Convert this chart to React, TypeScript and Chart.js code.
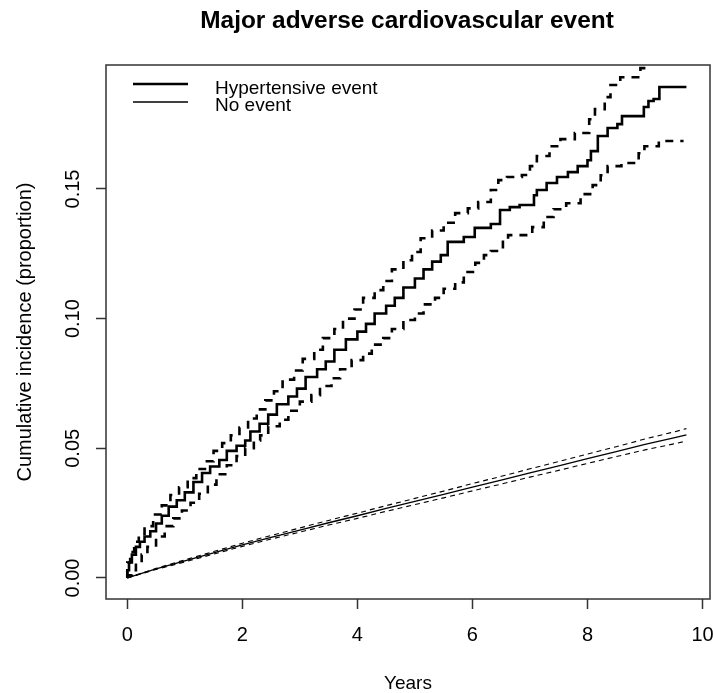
import { useEffect, useRef } from "react";
import { Chart, registerables } from "chart.js";

Chart.register(...registerables);

const chartTitle = "Major adverse cardiovascular event";
const xTitle = "Years";
const yTitle = "Cumulative incidence (proportion)";
const legendLabels = ["Hypertensive event", "No event"];
const xTicks = [0, 2, 4, 6, 8, 10];
const yTicks = [0, 0.05, 0.1, 0.15];

// Hypertensive event: estimate (step function)
const hyEstT = [0, 0.03, 0.08, 0.15, 0.22, 0.3, 0.4, 0.5, 0.6, 0.72, 0.86, 1.0, 1.15, 1.3, 1.44, 1.6, 1.73, 1.9, 2.05, 2.14, 2.3, 2.45, 2.6, 2.8, 2.95, 3.1, 3.3, 3.45, 3.6, 3.8, 4.0, 4.15, 4.3, 4.5, 4.65, 4.8, 5.0, 5.15, 5.3, 5.45, 5.57, 5.85, 6.04, 6.32, 6.48, 6.65, 6.82, 7.07, 7.12, 7.29, 7.47, 7.66, 7.83, 8.0, 8.06, 8.18, 8.35, 8.52, 8.6, 8.98, 9.06, 9.15, 9.25, 9.41, 9.72];
const hyEst = [0, 0.003, 0.006, 0.009, 0.012, 0.014, 0.016, 0.018, 0.021, 0.024, 0.0275, 0.03, 0.033, 0.037, 0.0405, 0.043, 0.0455, 0.049, 0.051, 0.053, 0.0565, 0.0595, 0.063, 0.067, 0.07, 0.073, 0.0775, 0.0805, 0.0835, 0.088, 0.092, 0.095, 0.098, 0.102, 0.105, 0.108, 0.112, 0.1155, 0.119, 0.122, 0.1245, 0.1296, 0.1315, 0.135, 0.1365, 0.1419, 0.143, 0.1438, 0.1476, 0.1496, 0.1523, 0.1546, 0.1565, 0.1588, 0.1611, 0.1646, 0.1704, 0.1735, 0.175, 0.1781, 0.1816, 0.1839, 0.1847, 0.1893, 0.1893];

// Hypertensive event: upper confidence limit
const hyHiT = [0, 0.05, 0.12, 0.2, 0.3, 0.45, 0.6, 0.75, 0.9, 1.05, 1.2, 1.35, 1.5, 1.65, 1.8, 1.95, 2.1, 2.25, 2.4, 2.55, 2.7, 2.9, 3.05, 3.25, 3.4, 3.6, 3.75, 3.95, 4.1, 4.3, 4.45, 4.6, 4.8, 4.95, 5.1, 5.3, 5.5, 5.7, 5.92, 6.1, 6.32, 6.45, 6.6, 6.86, 7.0, 7.12, 7.34, 7.53, 7.78, 8.03, 8.13, 8.3, 8.4, 8.57, 8.92, 9.02, 9.15, 9.41, 9.72];
const hyHi = [0, 0.006, 0.01, 0.014, 0.017, 0.02, 0.0245, 0.028, 0.032, 0.035, 0.0385, 0.042, 0.045, 0.049, 0.052, 0.055, 0.058, 0.0615, 0.065, 0.0685, 0.072, 0.0765, 0.08, 0.0845, 0.088, 0.0925, 0.096, 0.1, 0.1035, 0.108, 0.111, 0.1145, 0.119, 0.1225, 0.1257, 0.131, 0.134, 0.137, 0.1407, 0.1425, 0.145, 0.1496, 0.1534, 0.1546, 0.1554, 0.1588, 0.1627, 0.1665, 0.1692, 0.1716, 0.1769, 0.1808, 0.1854, 0.1901, 0.1931, 0.1966, 0.201, 0.208, 0.208];

// Hypertensive event: lower confidence limit
const hyLoT = [0, 0.08, 0.15, 0.25, 0.35, 0.5, 0.65, 0.8, 0.95, 1.1, 1.25, 1.4, 1.55, 1.73, 1.9, 2.05, 2.2, 2.31, 2.45, 2.65, 2.8, 3.0, 3.2, 3.35, 3.55, 3.7, 3.9, 4.1, 4.25, 4.45, 4.6, 4.8, 5.0, 5.15, 5.35, 5.5, 5.7, 5.85, 6.05, 6.2, 6.32, 6.53, 6.62, 7.04, 7.24, 7.41, 7.63, 7.88, 8.09, 8.23, 8.35, 8.59, 8.89, 8.99, 9.24, 9.41, 9.67];
const hyLo = [0, 0.001, 0.003, 0.006, 0.009, 0.012, 0.016, 0.02, 0.023, 0.026, 0.029, 0.0325, 0.036, 0.04, 0.0435, 0.047, 0.05, 0.053, 0.055, 0.0585, 0.061, 0.0645, 0.068, 0.0705, 0.074, 0.077, 0.0805, 0.084, 0.0865, 0.09, 0.0925, 0.096, 0.0995, 0.102, 0.1055, 0.108, 0.1115, 0.114, 0.118, 0.1215, 0.1245, 0.1261, 0.1307, 0.1322, 0.1353, 0.1392, 0.1422, 0.1445, 0.148, 0.1515, 0.1553, 0.1588, 0.16, 0.1638, 0.1665, 0.1685, 0.1685];

// No event
const noT = [0, 0.5, 1, 1.5, 2, 2.5, 3, 3.5, 4, 4.5, 5, 5.5, 6, 6.5, 7, 7.5, 8, 8.5, 9, 9.5, 9.72];
const noEst = [0, 0.0035, 0.0066, 0.0097, 0.0128, 0.0157, 0.0185, 0.0213, 0.024, 0.0268, 0.0295, 0.0322, 0.035, 0.0377, 0.0405, 0.0432, 0.046, 0.0487, 0.0515, 0.054, 0.0552];
const noHi = [0, 0.0037, 0.007, 0.0102, 0.0134, 0.0164, 0.0193, 0.0222, 0.025, 0.0279, 0.0307, 0.0335, 0.0364, 0.0392, 0.0421, 0.0449, 0.0478, 0.0506, 0.0536, 0.0563, 0.0576];
const noLo = [0, 0.0033, 0.0062, 0.0092, 0.0122, 0.015, 0.0177, 0.0204, 0.023, 0.0257, 0.0283, 0.0309, 0.0336, 0.0362, 0.0389, 0.0415, 0.0442, 0.0468, 0.0494, 0.0517, 0.0528];

const FONT = "'Liberation Sans', Arial, sans-serif";
const INK = "#000";
const AXIS = "#333";

function pts(t: number[], v: number[]) {
  return t.map((x, i) => ({ x, y: v[i] }));
}

export default function App() {
  const ref = useRef<HTMLCanvasElement>(null);

  useEffect(() => {
    if (!ref.current) return;

    const decor = {
      id: "decor",
      afterDraw(chart: any) {
        const { ctx, chartArea: a } = chart;
        ctx.save();
        ctx.strokeStyle = AXIS;
        ctx.lineWidth = 1.5;
        ctx.strokeRect(a.left, a.top, a.right - a.left, a.bottom - a.top);

        ctx.fillStyle = INK;
        ctx.font = `bold 24.4px ${FONT}`;
        ctx.textAlign = "center";
        ctx.textBaseline = "alphabetic";
        ctx.fillText(chartTitle, (a.left + a.right) / 2 - 1, 28);

        // legend
        ctx.strokeStyle = INK;
        ctx.lineWidth = 2.6;
        ctx.beginPath();
        ctx.moveTo(a.left + 27, a.top + 19);
        ctx.lineTo(a.left + 82, a.top + 19);
        ctx.stroke();
        ctx.lineWidth = 1.3;
        ctx.beginPath();
        ctx.moveTo(a.left + 27, a.top + 37);
        ctx.lineTo(a.left + 82, a.top + 37);
        ctx.stroke();
        ctx.font = `19px ${FONT}`;
        ctx.textAlign = "left";
        ctx.fillText(legendLabels[0], a.left + 109, a.top + 29);
        ctx.fillText(legendLabels[1], a.left + 109, a.top + 46);
        ctx.restore();
      },
    };

    const thick = 2.6;
    const thin = 1.3;
    const chart = new Chart(ref.current, {
      type: "line",
      data: {
        datasets: [
          { label: "hy upper", data: pts(hyHiT, hyHi), stepped: "after", borderColor: INK, borderWidth: thick, borderDash: [8, 7], pointRadius: 0 },
          { label: "hy lower", data: pts(hyLoT, hyLo), stepped: "after", borderColor: INK, borderWidth: thick, borderDash: [8, 7], pointRadius: 0 },
          { label: legendLabels[0], data: pts(hyEstT, hyEst), stepped: "after", borderColor: INK, borderWidth: thick, pointRadius: 0 },
          { label: "no upper", data: pts(noT, noHi), borderColor: INK, borderWidth: 1.1, borderDash: [5, 4], pointRadius: 0, tension: 0 },
          { label: "no lower", data: pts(noT, noLo), borderColor: INK, borderWidth: 1.1, borderDash: [5, 4], pointRadius: 0, tension: 0 },
          { label: legendLabels[1], data: pts(noT, noEst), borderColor: INK, borderWidth: thin, pointRadius: 0, tension: 0 },
        ],
      },
      options: {
        animation: false,
        responsive: false,
        devicePixelRatio: 1,
        layout: { padding: { top: 65, right: 3, left: 0, bottom: 0 } },
        plugins: {
          legend: { display: false },
          tooltip: { enabled: false },
          title: { display: false },
        },
        scales: {
          x: {
            type: "linear",
            min: -0.37,
            max: 10.13,
            afterBuildTicks: (s: any) => {
              s.ticks = xTicks.map((value) => ({ value }));
            },
            afterFit: (s: any) => {
              s.height = 94;
              s.paddingLeft = 0;
              s.paddingRight = 0;
            },
            ticks: {
              autoSkip: false,
              maxRotation: 0,
              padding: 14,
              color: INK,
              font: { family: FONT, size: 20 },
              callback: (v: any) => String(v),
            },
            grid: { drawOnChartArea: false, drawTicks: true, tickLength: 10, color: AXIS, tickWidth: 1.5 },
            border: { display: false },
            title: {
              display: true,
              text: xTitle,
              color: INK,
              font: { family: FONT, size: 19, lineHeight: 1 },
              padding: { top: 0, bottom: 0 },
            },
          },
          y: {
            type: "linear",
            min: -0.0081,
            max: 0.1978,
            afterBuildTicks: (s: any) => {
              s.ticks = yTicks.map((value) => ({ value }));
            },
            afterFit: (s: any) => {
              s.width = 106;
              s.paddingTop = 0;
              s.paddingBottom = 0;
            },
            ticks: {
              autoSkip: false,
              minRotation: 90,
              maxRotation: 90,
              crossAlign: "center",
              padding: 3,
              color: INK,
              font: { family: FONT, size: 20 },
              callback: (v: any) => Number(v).toFixed(2),
            },
            grid: { drawOnChartArea: false, drawTicks: true, tickLength: 10, color: AXIS, tickWidth: 1.5 },
            border: { display: false },
            title: {
              display: true,
              text: yTitle,
              color: INK,
              font: { family: FONT, size: 20, lineHeight: 1 },
              padding: { top: 15, bottom: 0 },
            },
          },
        },
      },
      plugins: [decor],
    } as any);

    return () => chart.destroy();
  }, []);

  return (
    <div style={{ position: "absolute", left: 0, top: 0, width: 713, height: 693, background: "#fff" }}>
      <canvas ref={ref} width={713} height={693} style={{ display: "block" }} />
    </div>
  );
}
